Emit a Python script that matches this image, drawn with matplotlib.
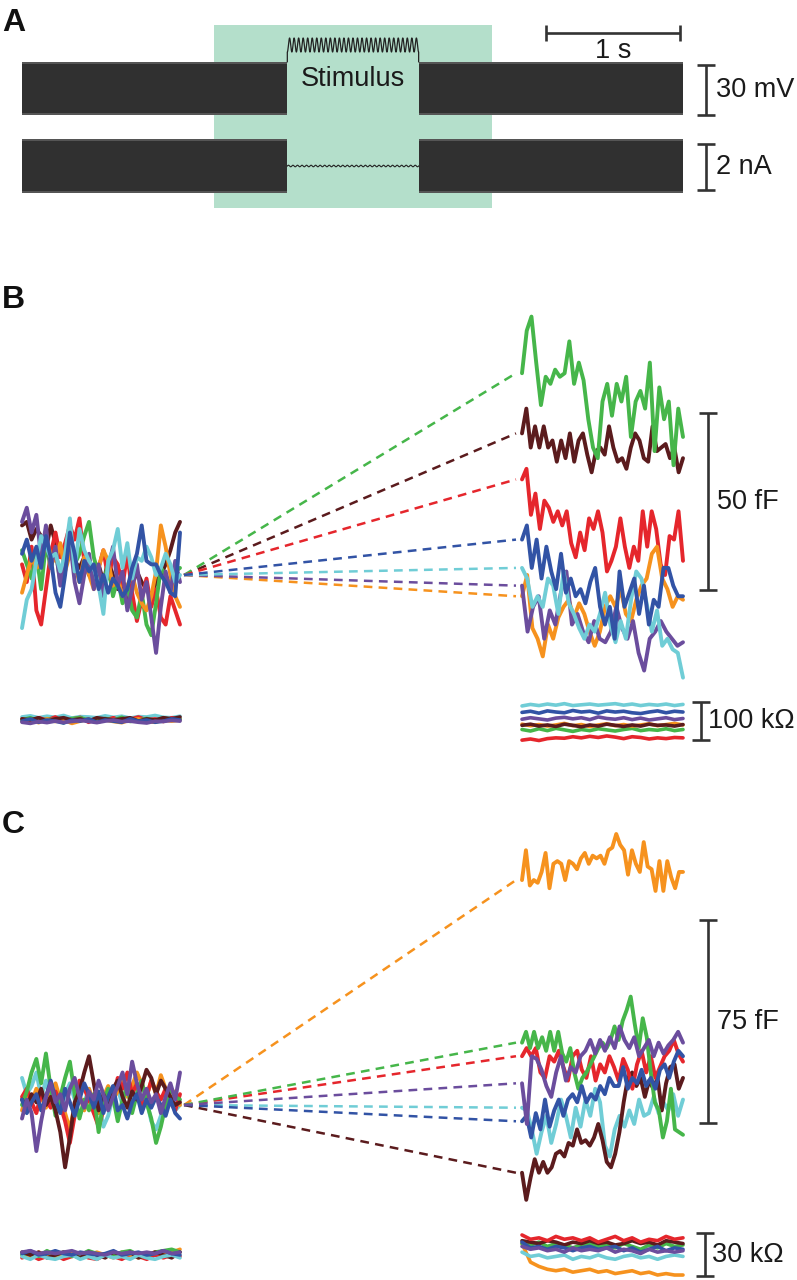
import numpy as np
import matplotlib
matplotlib.use('Agg')
import matplotlib.pyplot as plt

plt.rcParams['font.family'] = ['Liberation Sans', 'DejaVu Sans']

# ======================= DATA =======================
COL = {'green': '#46b64a', 'brown': '#5b1b1d', 'red': '#e5262c', 'blue': '#3253a5',
       'cyan': '#70cdd6', 'purple': '#6b4d9d', 'orange': '#f6921e'}

# ---- Panel A (seconds, mV, nA) ----
rec_pre_s = [0.0, 1.98]
stim_s = [1.98, 2.96]
rec_post_s = [2.96, 4.93]
highlight_s = [1.43, 3.51]
v_envelope_mv = [-16.0, 16.0]
i_envelope_na = [-1.17, 1.17]
stim_cycles = 29
scale_time_s = 1
scale_v_mv = 30
scale_i_na = 2

# ---- Panel B capacitance (fF, relative to pre-stimulus baseline) ----
b_left_brown = [14, 15, 10, 13, 11, 7, 14, 9, 6, 5, 8, 4, 2, 5, 0, -1, 3, -2, 4, 0, -4, -1, -9, -3, 1, -2, -4, -6, -2, 0, 3, 7, 12, 15]
b_left_red = [3, -2, 8, -10, -14, -4, 6, 12, 5, 9, 14, 10, 16, 4, 1, -2, 2, 7, -1, 5, 3, -3, 6, -5, -13, -7, -1, -9, -4, -12, -14, -6, -10, -14]
b_left_green = [7, 3, -1, 6, -4, 9, 2, 7, -2, 4, 8, 3, 6, 11, 15, 5, 0, -2, 3, -6, -1, -8, -3, -10, -12, -5, -14, -17, -8, 2, 0, -3, 1, 2]
b_left_orange = [-5, 0, 5, 2, 3, 10, 6, 4, 9, 1, 6, 3, -2, 5, 0, -4, 2, 7, 4, -3, -1, -6, -3, 0, -5, -8, -10, -6, 1, 14, 8, 0, -6, -9]
b_left_purple = [15, 19, 12, 17, 5, 14, 2, 8, -3, 4, 10, -2, -8, 0, 6, -4, 3, -6, 2, 8, -3, 1, -10, -4, 3, -7, -2, -12, -22, -9, 1, -5, 4, -2]
b_left_cyan = [-15, -7, -4, 4, 11, 8, 5, 6, 1, 6, 16, 1, 13, 7, 4, 2, -3, -11, 4, 7, 13, 2, 9, -1, 5, 4, 8, 5, 0, 2, 6, 3, -2, 0]
b_left_blue = [6, 10, 4, 8, 2, 11, 5, -5, -9, 0, 12, 6, -2, 4, 1, 3, -4, 0, -5, -1, -3, -6, -4, 2, 6, 14, 4, 3, 3, 0, -2, -5, -6, 12]

b_right_green = [57, 69, 73, 60, 48, 56, 54, 58, 56, 57, 66, 54, 60, 55, 44, 36, 33, 49, 54, 45, 54, 49, 56, 39, 49, 52, 47, 60, 35, 53, 44, 49, 31, 47, 39]
b_right_brown = [40, 47, 36, 42, 36, 42, 36, 38, 32, 38, 33, 40, 32, 38, 40, 34, 29, 35, 36, 34, 42, 36, 32, 33, 30, 36, 40, 38, 33, 32, 42, 35, 36, 37, 33, 36, 29, 33]
b_right_red = [27, 30, 17, 23, 13, 21, 19, 15, 18, 14, 18, 9, 5, 12, 7, 16, 13, 18, 12, 1, 4, 8, 16, 8, 2, 8, 4, 18, 8, 18, 13, 3, 0, 11, 10, 18, 4]
b_right_blue = [10, 14, 2, 10, -1, 8, 1, -4, 6, -5, -1, -6, -4, -8, -2, 2, -9, -14, -9, -18, 1, -9, -5, -1, -11, -3, -14, -7, -9, 2, 2, -3, -6, -6]
b_right_cyan = [2, -1, -9, -6, -9, -1, -3, -11, 1, -8, -11, -15, -18, -14, -16, -11, -5, -14, -19, -13, -18, -7, 1, -1, -8, -16, -10, -20, -18, -21, -22, -29]
b_right_purple = [-3, -16, -9, -6, -18, -10, -14, -5, 1, -14, -11, -16, -19, -13, -18, -19, -16, -9, -15, -18, -13, -22, -27, -18, -16, -13, -16, -18, -20, -19]
b_right_orange = [-6, 0, -15, -18, -23, -14, -18, -12, -9, -7, -12, -8, -11, -16, -20, -16, -9, -6, -9, -4, -11, -13, -7, -3, -1, 6, 8, -1, -4, -9, -6, -7]

# ---- Panel B resistance (kOhm, relative to baseline) ----
b_res_left_cyan = [8, 11, 6, 10, 7, 12, 5, 9, 8, 6, 11, 7, 10, 5, 9, 8, 12, 7, 6, 10]
b_res_left_red = [3, -3, 6, 0, 8, -4, 2, 7, -6, 3, 0, 6, -3, 2, 8, 0, 3, -4, 6, 2]
b_res_left_green = [0, 6, -4, 3, 0, -7, 4, 6, 0, -3, 4, 0, 7, -4, 0, 4, -3, 6, 0, 3]
b_res_left_orange = [-4, 0, -7, 3, -4, 0, -9, -3, 3, -6, 0, -4, -7, 0, 3, -4, -6, 0, -3, 0]
b_res_left_brown = [3, 0, 6, -3, 3, 6, 0, 3, -3, 6, 3, 0, 3, 6, -3, 3, 0, 6, 3, 8]
b_res_left_blue = [-3, 3, -6, 0, -3, -8, 0, -3, 3, -6, 0, -3, -6, 3, -3, 0, -6, -3, 3, 0]
b_res_left_purple = [-6, -9, -4, -7, -3, -6, -4, -1, -4, -7, -3, 0, -4, -3, -6, -8, -3, -4, -1, -3]

b_res_right_cyan = [37, 41, 38, 42, 39, 43, 38, 40, 42, 39, 41, 43, 39, 42, 38, 41, 39, 42, 38, 41]
b_res_right_blue = [20, 23, 18, 24, 21, 19, 25, 21, 23, 18, 24, 21, 23, 19, 17, 21, 24, 19, 23, 21]
b_res_right_purple = [2, 6, 3, 0, 5, 7, 3, 6, 1, 8, 4, 2, 6, 1, 5, 0, 3, 6, 1, 4]
b_res_right_orange = [-11, -15, -12, -16, -13, -9, -15, -12, -17, -13, -10, -15, -12, -16, -13, -10, -15, -12, -9, -13]
b_res_right_brown = [-14, -11, -16, -13, -17, -11, -14, -18, -13, -16, -11, -14, -17, -13, -16, -11, -14, -13, -16, -12]
b_res_right_green = [-25, -29, -23, -28, -22, -26, -30, -25, -28, -23, -26, -29, -25, -22, -28, -25, -27, -23, -28, -25]
b_res_right_red = [-53, -50, -54, -49, -47, -48, -44, -47, -43, -46, -42, -45, -49, -44, -46, -50, -47, -49, -46, -47]

# ---- Panel C capacitance (fF) ----
c_left_green = [0, 5, 12, 17, 8, 19, 6, -4, 3, 10, 16, 4, -5, 2, -2, 4, -10, 1, 6, 3, -6, 2, 7, -3, 4, 9, 1, -5, -14, -8, 0, 6, 3, 2]
c_left_brown = [2, -1, 4, 1, 6, 0, 3, -2, -10, -23, -12, 1, 5, 12, 18, 8, -2, 4, 0, 6, 9, 3, -1, 5, 2, 7, 13, 10, 4, 9, 6, 3, 0, 1]
c_left_red = [3, 6, 1, -3, 4, 2, -1, 5, 0, -6, -14, -4, 9, 6, 2, -3, -8, -2, 5, 3, 10, 6, 12, 4, 8, -1, 3, 9, 5, 2, 6, 1, -2, 4]
c_left_orange = [-2, 4, 1, 6, 3, -1, 5, 8, 2, -3, -9, 0, 4, -2, 6, 1, -3, 3, 7, 2, 5, 10, 3, 7, 12, 8, 3, 9, 4, 11, 6, 2, 5, 0]
c_left_cyan = [10, 4, 7, 12, 3, 9, 1, 6, -2, 4, 8, 2, -4, 1, 6, -3, 2, -8, -4, 3, 6, 0, 8, 3, 5, -1, 2, -6, -9, -4, 1, 3, -2, 0]
c_left_blue = [2, -3, 1, 4, -2, 3, 9, 2, -3, 6, 1, -4, 2, 8, 4, -1, 5, -3, 3, 7, -2, 0, -5, 1, 4, -3, 2, -1, 3, 0, -4, 2, -3, -5]
c_left_purple = [-5, 2, -3, -17, -6, 3, 8, 1, 4, -2, 6, 10, 3, -1, 5, 2, 9, 4, -2, 3, 7, 12, 4, 16, 8, 2, 6, 1, 4, -3, 3, 8, 2, 12]

c_right_orange = [83, 94, 81, 83, 82, 86, 93, 80, 89, 90, 89, 83, 90, 89, 87, 91, 93, 89, 92, 91, 92, 89, 94, 95, 100, 96, 94, 85, 94, 89, 86, 97, 88, 87, 79, 90, 79, 90, 84, 80, 86, 86]
c_right_green = [23, 27, 21, 27, 21, 25, 20, 27, 20, 27, 19, 16, 21, 12, 6, 10, 12, 15, 18, 21, 23, 21, 24, 29, 24, 31, 35, 40, 30, 21, 32, 25, 12, 1, -2, -12, -6, 6, -9, -10, -11]
c_right_red = [18, 21, 18, 21, 12, 10, 18, 16, 20, 14, 9, 18, 20, 13, 10, 18, 9, 15, 12, 18, 14, 9, 17, 13, 6, 15, 20, 12, 18, 10, 14, 18, 20, 24, 19, 16]
c_right_purple = [8, -7, 18, 17, 13, 7, 3, 12, 18, 9, 14, 12, 18, 20, 24, 19, 24, 20, 25, 21, 29, 24, 21, 25, 18, 21, 24, 18, 23, 19, 22, 24, 27, 23]
c_right_blue = [-6, -4, -12, -3, -9, 2, -8, -2, 2, -4, 2, 4, 1, 7, 1, 4, 2, 7, 4, 10, 7, 7, 14, 6, 10, 8, 13, 7, 10, 6, 13, 15, 10, 16, 20, 18]
c_right_cyan = [-1, -2, -9, -18, -10, -4, -14, -7, 2, -4, -12, -1, -8, 2, -4, 6, 1, -15, -19, -9, -4, -8, -2, -7, 2, -4, -3, 3, -3, 1, -2, 4, -4, 2]
c_right_brown = [-25, -35, -27, -20, -25, -21, -25, -23, -18, -17, -19, -14, -15, -9, -14, -13, -15, -12, -7, -13, -21, -23, -18, -10, 1, 10, 12, 7, 10, 3, 9, 6, 10, -2, 8, 14, 15, 6, 10]

# ---- Panel C resistance (kOhm) ----
c_res_left_green = [0, 2, -1, 3, 0, 2, -1, 0, 3, 1, -1, 0, 2, 3, 0, -1, 2, 3, 4, 2]
c_res_left_red = [-2, 0, -3, -1, 0, -3, -1, 0, -2, -3, 0, -1, -3, 0, -1, -3, 0, -2, 0, -1]
c_res_left_orange = [0, -2, 2, 0, -2, 0, 2, -2, 0, 2, 0, -2, 2, 0, -2, 0, 2, 0, 2, 4]
c_res_left_brown = [2, 0, 2, -2, 0, 2, 0, -2, 2, 0, -2, 2, 0, 2, -2, 0, 2, 0, -2, 2]
c_res_left_cyan = [-1, -3, 0, -2, -3, -1, 0, -3, -1, -3, 0, -2, -1, -3, 0, -2, -3, -1, 0, -2]
c_res_left_blue = [1, 3, 0, 1, 3, 1, 0, 2, 1, 0, 1, 3, 0, 1, 2, 0, 1, 3, 1, 0]
c_res_left_purple = [2, 3, 1, 2, 1, 2, 3, 1, 2, 1, 0, 2, 1, 2, 1, 2, 1, 3, 1, 2]

c_res_right_red = [14, 11, 12, 10, 13, 11, 12, 10, 12, 9, 11, 13, 10, 12, 9, 11, 10, 13, 11, 12]
c_res_right_brown = [10, 9, 8, 10, 9, 7, 9, 8, 10, 8, 9, 7, 8, 10, 8, 9, 7, 10, 9, 8]
c_res_right_green = [8, 7, 9, 6, 8, 7, 5, 7, 8, 6, 7, 5, 8, 6, 4, 7, 5, 8, 6, 7]
c_res_right_blue = [9, 5, 6, 4, 6, 5, 3, 5, 6, 4, 5, 6, 3, 5, 2, 4, 6, 3, 5, 4]
c_res_right_purple = [6, 4, 5, 3, 4, 2, 5, 3, 4, 3, 5, 2, 4, 3, 1, 4, 2, 3, 2, 3]
c_res_right_cyan = [2, -1, 0, -2, -1, 0, -3, -1, -2, 0, -2, -3, -1, 0, -2, -1, -3, -1, 0, -1]
c_res_right_orange = [8, -5, -8, -10, -11, -10, -12, -11, -10, -12, -11, -13, -12, -11, -13, -12, -14, -13, -14, -14]

scale_b_cap_ff = 50
scale_b_res_kohm = 100
scale_c_cap_ff = 75
scale_c_res_kohm = 30

# ======================= LAYOUT =======================
W, H = 797, 1280
fig = plt.figure(figsize=(W / 100, H / 100), dpi=100)
ax = fig.add_axes([0, 0, 1, 1])
ax.set_xlim(0, W)
ax.set_ylim(H, 0)
ax.axis('off')

FS = 19.5
TXT = '#1a1a1a'
BAR_LW = 1.9

# ---------- Panel A ----------
A_X0, A_PX_PER_S = 22, 134
A_V_Y, A_PX_PER_MV = 88.5, 1.67
A_I_Y, A_PX_PER_NA = 166, 23.0


def tx(t):
    return A_X0 + A_PX_PER_S * np.asarray(t, dtype=float)


ax.fill_between(tx(highlight_s), 25, 208, color='#b4dfcb', lw=0, zorder=0)

for seg in (rec_pre_s, rec_post_s):
    xs = tx(seg)
    for yc, env, k in ((A_V_Y, v_envelope_mv, A_PX_PER_MV), (A_I_Y, i_envelope_na, A_PX_PER_NA)):
        top = yc - k * env[1]
        bot = yc - k * env[0]
        ax.fill_between(xs, top, bot, color='#555555', lw=0, zorder=2)
        ax.fill_between(xs, top + 2, bot - 2, color='#303030', lw=0, zorder=3)

# stimulus trace
ts = np.linspace(stim_s[0], stim_s[1], 900)
ph = (ts - stim_s[0]) / (stim_s[1] - stim_s[0]) * stim_cycles * 2 * np.pi
stim_y = 45 - 7 * np.sin(ph - np.pi / 2)
vt = A_V_Y - A_PX_PER_MV * v_envelope_mv[1]
ax.plot(np.r_[tx(stim_s[0]), tx(ts), tx(stim_s[1])], np.r_[vt, stim_y, vt],
        color='#222222', lw=0.9, zorder=4)
cur_y = A_I_Y - 0.8 * np.sin(ph)
ax.plot(tx(ts), cur_y, color='#222222', lw=0.8, zorder=4)
ax.text(tx(np.mean(stim_s)), 79, 'Stimulus', fontsize=FS, ha='center', va='center', color=TXT, zorder=5)


def hbar(x0, x1, y, cap=8):
    ax.plot([x0, x1], [y, y], color='#333333', lw=BAR_LW, solid_capstyle='butt')
    for x in (x0, x1):
        ax.plot([x, x], [y - cap, y + cap], color='#333333', lw=BAR_LW, solid_capstyle='butt')


def vbar(x, y0, y1, cap=9):
    ax.plot([x, x], [y0, y1], color='#333333', lw=BAR_LW, solid_capstyle='butt')
    for y in (y0, y1):
        ax.plot([x - cap, x + cap], [y, y], color='#333333', lw=BAR_LW, solid_capstyle='butt')


hbar(546, 546 + A_PX_PER_S * scale_time_s, 33)
ax.text(546 + A_PX_PER_S * scale_time_s / 2, 51, f'{scale_time_s} s', fontsize=FS, ha='center', va='center', color=TXT)
vbar(706, 115 - A_PX_PER_MV * scale_v_mv, 115)
ax.text(716, 90, f'{scale_v_mv} mV', fontsize=FS, ha='left', va='center', color=TXT)
vbar(706, 190 - A_PX_PER_NA * scale_i_na, 190)
ax.text(716, 167, f'{scale_i_na} nA', fontsize=FS, ha='left', va='center', color=TXT)

# panel letters
for letter, yb in (('A', 31), ('B', 308), ('C', 833)):
    ax.text(2, yb, letter, fontsize=23, fontweight='bold', ha='left', va='baseline', color='#111111')

LEFT = (22, 180)
RIGHT = (522, 683)
TR_LW = 2.8


def trace(vals, span, base, k, color, lw=TR_LW, z=5):
    v = np.asarray(vals, dtype=float)
    x = np.linspace(span[0], span[1], len(v))
    ax.plot(x, base - k * v, color=color, lw=lw, solid_joinstyle='round',
            solid_capstyle='round', zorder=z)


def dashed(base, k, first_val, color):
    ax.plot([184, 516], [base, base - k * first_val], color=color, lw=1.8,
            dashes=(3.5, 2.5), zorder=4)


# ---------- Panel B ----------
B_BASE, B_K = 575, 3.54
b_left = [('brown', b_left_brown), ('red', b_left_red), ('green', b_left_green), ('orange', b_left_orange),
          ('purple', b_left_purple), ('cyan', b_left_cyan), ('blue', b_left_blue)]
b_right = [('brown', b_right_brown), ('green', b_right_green), ('red', b_right_red), ('orange', b_right_orange),
           ('purple', b_right_purple), ('cyan', b_right_cyan), ('blue', b_right_blue)]
for i, (c, v) in enumerate(b_left):
    trace(v, LEFT, B_BASE, B_K, COL[c], z=5 + i * 0.1)
for i, (c, v) in enumerate(b_right):
    dashed(B_BASE, B_K, v[0], COL[c])
    trace(v, RIGHT, B_BASE, B_K, COL[c], z=5 + i * 0.1)
vbar(708, 590 - B_K * scale_b_cap_ff, 590)
ax.text(717, 502, f'{scale_b_cap_ff} fF', fontsize=FS, ha='left', va='center', color=TXT)

BR_BASE, BR_K = 720, 0.38
b_res_left = [('cyan', b_res_left_cyan), ('red', b_res_left_red), ('green', b_res_left_green),
              ('orange', b_res_left_orange), ('brown', b_res_left_brown), ('blue', b_res_left_blue),
              ('purple', b_res_left_purple)]
b_res_right = [('red', b_res_right_red), ('green', b_res_right_green), ('orange', b_res_right_orange),
               ('brown', b_res_right_brown), ('purple', b_res_right_purple), ('blue', b_res_right_blue),
               ('cyan', b_res_right_cyan)]
for i, (c, v) in enumerate(b_res_left):
    trace(v, LEFT, BR_BASE, BR_K, COL[c], lw=2.6, z=5 + i * 0.1)
for i, (c, v) in enumerate(b_res_right):
    trace(v, RIGHT, BR_BASE, BR_K, COL[c], lw=2.6, z=5 + i * 0.1)
vbar(701, 740 - BR_K * scale_b_res_kohm, 740)
ax.text(708, 721, f'{scale_b_res_kohm} kΩ', fontsize=FS, ha='left', va='center', color=TXT)

# ---------- Panel C ----------
C_BASE, C_K = 1105, 2.71
c_left = [('cyan', c_left_cyan), ('orange', c_left_orange), ('red', c_left_red), ('green', c_left_green),
          ('brown', c_left_brown), ('blue', c_left_blue), ('purple', c_left_purple)]
c_right = [('orange', c_right_orange), ('cyan', c_right_cyan), ('brown', c_right_brown), ('red', c_right_red),
           ('green', c_right_green), ('blue', c_right_blue), ('purple', c_right_purple)]
for i, (c, v) in enumerate(c_left):
    trace(v, LEFT, C_BASE, C_K, COL[c], z=5 + i * 0.1)
for i, (c, v) in enumerate(c_right):
    dashed(C_BASE, C_K, v[0], COL[c])
    trace(v, RIGHT, C_BASE, C_K, COL[c], z=5 + i * 0.1)
vbar(708, 1123 - C_K * scale_c_cap_ff, 1123)
ax.text(717, 1022, f'{scale_c_cap_ff} fF', fontsize=FS, ha='left', va='center', color=TXT)

CR_BASE, CR_K = 1255, 1.43
c_res_left = [('red', c_res_left_red), ('orange', c_res_left_orange), ('green', c_res_left_green),
              ('brown', c_res_left_brown), ('cyan', c_res_left_cyan), ('blue', c_res_left_blue),
              ('purple', c_res_left_purple)]
c_res_right = [('orange', c_res_right_orange), ('cyan', c_res_right_cyan), ('green', c_res_right_green),
               ('brown', c_res_right_brown), ('red', c_res_right_red), ('blue', c_res_right_blue),
               ('purple', c_res_right_purple)]
for i, (c, v) in enumerate(c_res_left):
    trace(v, LEFT, CR_BASE, CR_K, COL[c], lw=2.6, z=5 + i * 0.1)
for i, (c, v) in enumerate(c_res_right):
    trace(v, RIGHT, CR_BASE, CR_K, COL[c], lw=2.6, z=5 + i * 0.1)
vbar(705, 1276 - CR_K * scale_c_res_kohm, 1276)
ax.text(712, 1255, f'{scale_c_res_kohm} kΩ', fontsize=FS, ha='left', va='center', color=TXT)

fig.savefig('out.png', dpi=100)
